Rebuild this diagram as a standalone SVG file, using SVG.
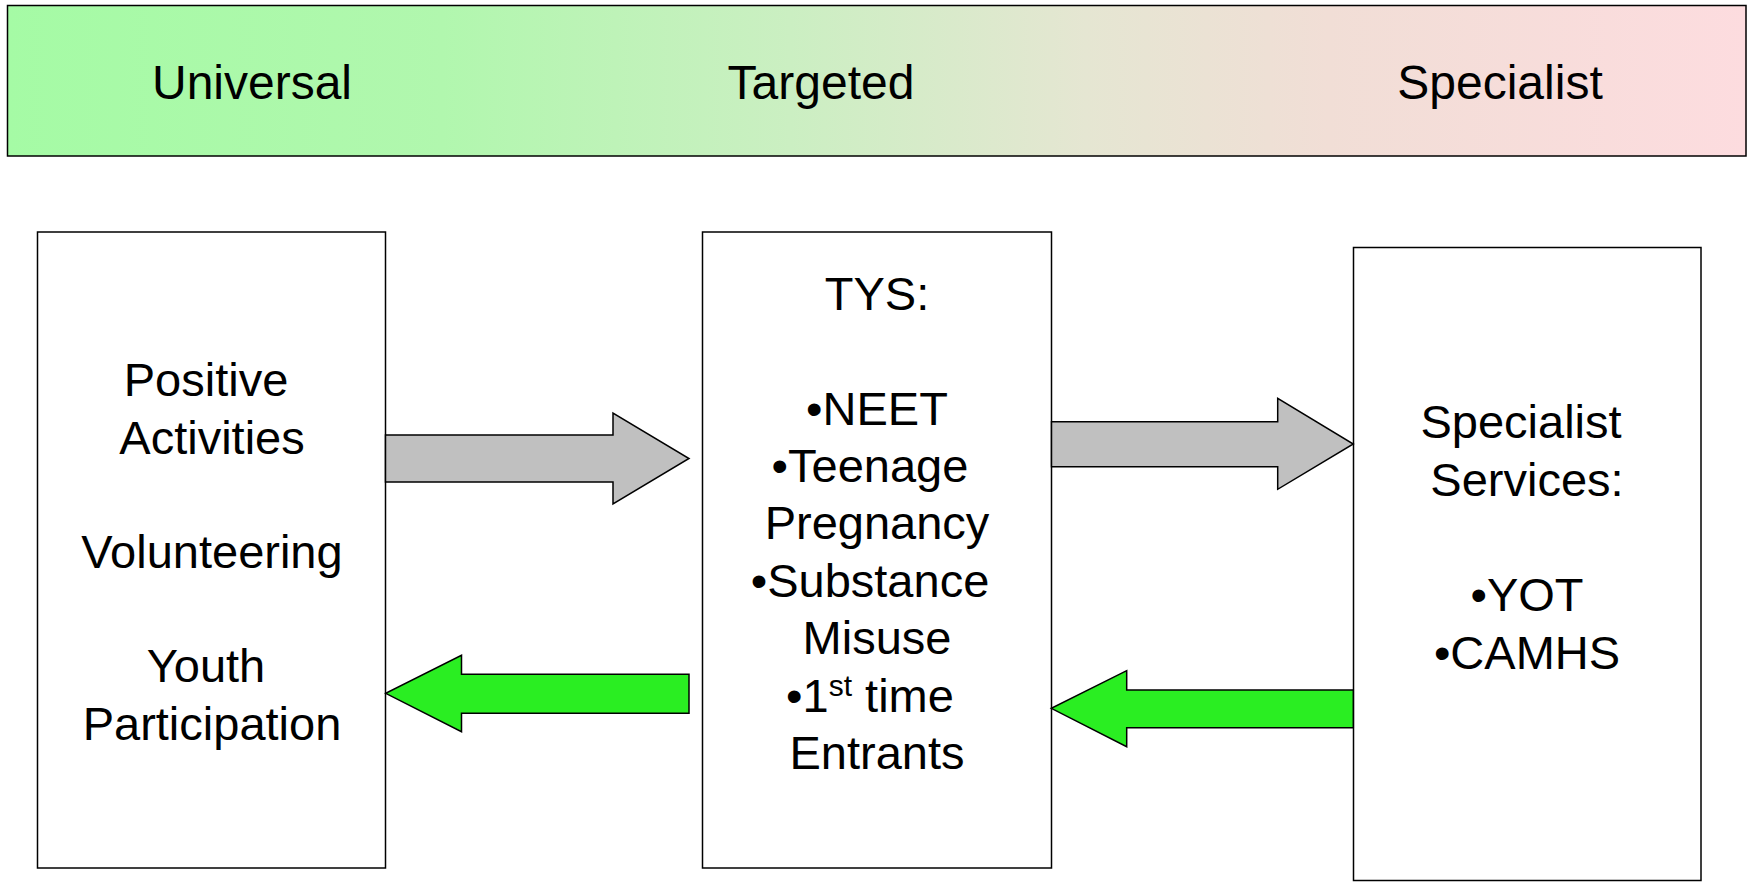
<svg xmlns="http://www.w3.org/2000/svg" width="1748" height="882" viewBox="0 0 1748 882">
<defs>
<linearGradient id="band" x1="0" y1="0" x2="1" y2="0">
<stop offset="0" stop-color="#a5fba5"/>
<stop offset="0.25" stop-color="#b1f7ae"/>
<stop offset="0.45" stop-color="#cbefc2"/>
<stop offset="0.62" stop-color="#e5e6d2"/>
<stop offset="0.76" stop-color="#f1ded6"/>
<stop offset="1" stop-color="#fddcdf"/>
</linearGradient>
</defs>
<style>
text { font-family: "Liberation Sans", Arial, sans-serif; fill: #000; text-anchor: middle; }
.head { font-size: 48px; }
.body { font-size: 47px; }
.sup { font-size: 30px; }
.box { fill: #fff; stroke: #000; stroke-width: 1.5; }
.gray { fill: #c0c0c0; stroke: #000; stroke-width: 1.5; stroke-linejoin: miter; }
.green { fill: #2aee22; stroke: #000; stroke-width: 1.5; stroke-linejoin: miter; }
</style>
<rect width="1748" height="882" fill="#fff"/>
<g id="scale-bar">
<rect x="7.5" y="5.5" width="1738.5" height="150.5" fill="url(#band)" stroke="#000" stroke-width="1.5"/>
<text class="head" x="252" y="99">Universal</text>
<text class="head" x="821" y="99">Targeted</text>
<text class="head" x="1500" y="99">Specialist</text>
</g>
<g id="node-universal">
<rect class="box" x="37.5" y="232" width="348" height="636"/>
<text class="body" x="206" y="396">Positive</text>
<text class="body" x="212" y="453.5">Activities</text>
<text class="body" x="212" y="568">Volunteering</text>
<text class="body" x="206" y="682">Youth</text>
<text class="body" x="212" y="740">Participation</text>
</g>
<g id="node-targeted">
<rect class="box" x="702.5" y="232" width="349" height="636"/>
<text class="body" x="877" y="310">TYS:</text>
<text class="body" x="877" y="424.5">•NEET</text>
<text class="body" x="870" y="481.5">•Teenage</text>
<text class="body" x="877" y="539">Pregnancy</text>
<text class="body" x="870" y="596.5">•Substance</text>
<text class="body" x="877" y="654">Misuse</text>
<text class="body" x="870" y="711.5">•1<tspan class="sup" dy="-16">st</tspan><tspan dy="16"> time</tspan></text>
<text class="body" x="877" y="769">Entrants</text>
</g>
<g id="node-specialist">
<rect class="box" x="1353.5" y="247.5" width="347.5" height="633"/>
<text class="body" x="1521" y="438">Specialist</text>
<text class="body" x="1527" y="496">Services:</text>
<text class="body" x="1527" y="611">•YOT</text>
<text class="body" x="1527" y="669">•CAMHS</text>
</g>
<g id="connectors">
<polygon class="gray" points="385.5,435 613,435 613,413 689,458.5 613,504 613,482 385.5,482"/>
<polygon class="gray" points="1051.5,421.7 1277.7,421.7 1277.7,398.3 1353.3,444 1277.7,489.3 1277.7,466.7 1051.5,466.7"/>
<polygon class="green" points="689,674.3 461.5,674.3 461.5,655.3 385.7,693.3 461.5,731.7 461.5,713.3 689,713.3"/>
<polygon class="green" points="1353.3,690 1126.7,690 1126.7,670.7 1051.3,708.3 1126.7,746.7 1126.7,727.7 1353.3,727.7"/>
</g>
</svg>
